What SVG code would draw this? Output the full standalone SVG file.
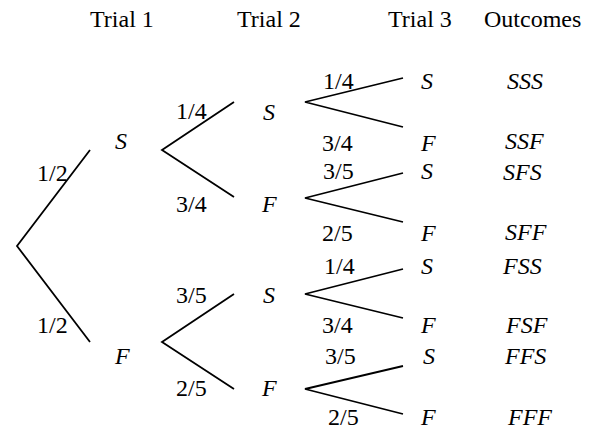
<svg xmlns="http://www.w3.org/2000/svg" width="606" height="429" viewBox="0 0 606 429">
<rect width="606" height="429" fill="#fff"/>
<g id="headers">
  <text x="90" y="27" style="font-family:'Liberation Serif';font-size:24px">Trial 1</text>
  <text x="237" y="27" style="font-family:'Liberation Serif';font-size:24px">Trial 2</text>
  <text x="388" y="27" style="font-family:'Liberation Serif';font-size:24px">Trial 3</text>
  <text x="484" y="27" style="font-family:'Liberation Serif';font-size:24px">Outcomes</text>
</g>
<g id="connectors" stroke="#000" stroke-width="1.8" fill="none">
  <path d="M90,150 L17,246 L90,342"/>
  <path d="M234,102 L162,150 L234,197"/>
  <path d="M234,294 L162,342 L234,389"/>
  <path d="M403,78 L305,102 L403,127"/>
  <path d="M403,173 L305,198 L403,222"/>
  <path d="M403,269 L305,294 L403,318"/>
  <path d="M403,366 L305,389 L403,414"/>
</g>
<g id="edge-labels" fill="#000" stroke="none">
  <text x="37" y="181" style="font-family:'Liberation Serif';font-size:24px">1/2</text>
  <text x="37" y="333" style="font-family:'Liberation Serif';font-size:24px">1/2</text>
  <text x="176" y="119" style="font-family:'Liberation Serif';font-size:24px">1/4</text>
  <text x="176" y="212" style="font-family:'Liberation Serif';font-size:24px">3/4</text>
  <text x="176" y="303" style="font-family:'Liberation Serif';font-size:24px">3/5</text>
  <text x="176" y="396" style="font-family:'Liberation Serif';font-size:24px">2/5</text>
  <text x="323" y="89" style="font-family:'Liberation Serif';font-size:24px">1/4</text>
  <text x="322" y="151" style="font-family:'Liberation Serif';font-size:24px">3/4</text>
  <text x="323" y="179" style="font-family:'Liberation Serif';font-size:24px">3/5</text>
  <text x="322" y="241" style="font-family:'Liberation Serif';font-size:24px">2/5</text>
  <text x="324" y="274" style="font-family:'Liberation Serif';font-size:24px">1/4</text>
  <text x="322" y="333" style="font-family:'Liberation Serif';font-size:24px">3/4</text>
  <text x="325" y="364" style="font-family:'Liberation Serif';font-size:24px">3/5</text>
  <text x="328" y="425" style="font-family:'Liberation Serif';font-size:24px">2/5</text>
</g>
<g id="root"></g>
<g id="t1-S"><text x="115" y="149" style="font-family:'Liberation Serif';font-size:24px;font-style:italic">S</text></g>
<g id="t1-F"><text x="115" y="364" style="font-family:'Liberation Serif';font-size:24px;font-style:italic">F</text></g>
<g id="t2-S1"><text x="263" y="120" style="font-family:'Liberation Serif';font-size:24px;font-style:italic">S</text></g>
<g id="t2-F1"><text x="262" y="212" style="font-family:'Liberation Serif';font-size:24px;font-style:italic">F</text></g>
<g id="t2-S2"><text x="263" y="303" style="font-family:'Liberation Serif';font-size:24px;font-style:italic">S</text></g>
<g id="t2-F2"><text x="262" y="396" style="font-family:'Liberation Serif';font-size:24px;font-style:italic">F</text></g>
<g id="t3-1"><text x="421" y="89" style="font-family:'Liberation Serif';font-size:24px;font-style:italic">S</text><text x="507" y="89" style="font-family:'Liberation Serif';font-size:24px;font-style:italic">SSS</text></g>
<g id="t3-2"><text x="421" y="151" style="font-family:'Liberation Serif';font-size:24px;font-style:italic">F</text><text x="505" y="149" style="font-family:'Liberation Serif';font-size:24px;font-style:italic">SSF</text></g>
<g id="t3-3"><text x="421" y="179" style="font-family:'Liberation Serif';font-size:24px;font-style:italic">S</text><text x="503" y="180" style="font-family:'Liberation Serif';font-size:24px;font-style:italic">SFS</text></g>
<g id="t3-4"><text x="421" y="241" style="font-family:'Liberation Serif';font-size:24px;font-style:italic">F</text><text x="505" y="240" style="font-family:'Liberation Serif';font-size:24px;font-style:italic">SFF</text></g>
<g id="t3-5"><text x="421" y="274" style="font-family:'Liberation Serif';font-size:24px;font-style:italic">S</text><text x="503" y="274" style="font-family:'Liberation Serif';font-size:24px;font-style:italic">FSS</text></g>
<g id="t3-6"><text x="421" y="333" style="font-family:'Liberation Serif';font-size:24px;font-style:italic">F</text><text x="506" y="333" style="font-family:'Liberation Serif';font-size:24px;font-style:italic">FSF</text></g>
<g id="t3-7"><text x="423" y="364" style="font-family:'Liberation Serif';font-size:24px;font-style:italic">S</text><text x="505" y="364" style="font-family:'Liberation Serif';font-size:24px;font-style:italic">FFS</text></g>
<g id="t3-8"><text x="421" y="425" style="font-family:'Liberation Serif';font-size:24px;font-style:italic">F</text><text x="508" y="425" style="font-family:'Liberation Serif';font-size:24px;font-style:italic">FFF</text></g>
</svg>
